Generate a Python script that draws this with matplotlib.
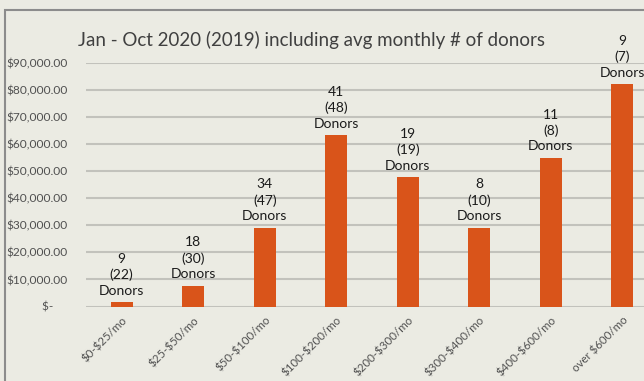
import matplotlib
matplotlib.use("Agg")
import matplotlib.pyplot as plt
from matplotlib.patches import Rectangle
from matplotlib.ticker import FuncFormatter

# Dane
categories = ["$0-$25/mo", "$25-$50/mo", "$50-$100/mo", "$100-$200/mo",
              "$200-$300/mo", "$300-$400/mo", "$400-$600/mo", "over $600/mo"]
amounts = [1500, 7700, 29100, 63200, 47700, 29100, 54800, 82000]
donors_2020 = [9, 18, 34, 41, 19, 8, 11, 9]
donors_2019 = [22, 30, 47, 48, 19, 10, 8, 7]

bg = "#EBEBE3"
bar_color = "#D9541A"
plt.rcParams['font.family'] = ['Lato', 'DejaVu Sans']
plt.rcParams['text.parse_math'] = False  # znaki $ jako zwykły tekst

fig = plt.figure(figsize=(6.44, 3.81), dpi=100, facecolor=bg)
# ramka wykresu
fig.patches.append(Rectangle((5 / 644, -0.05), 1.2, (381 - 10) / 381 + 0.05,
                             transform=fig.transFigure, fill=False,
                             edgecolor="#8C8C8C", linewidth=1.5))

ax = fig.add_axes([86 / 644, (381 - 306.5) / 381, 572 / 644, (306.5 - 62.5) / 381])
ax.set_facecolor(bg)
x = range(len(categories))
ax.bar(x, amounts, width=0.31, color=bar_color, zorder=3)
ax.set_xlim(-0.5, len(categories) - 0.5)
ax.set_ylim(0, 90000)
ax.set_yticks(range(0, 90001, 10000))


def fmt(v, pos):
    if v == 0:
        return "$-     "
    return "${:,.2f}".format(v)


ax.yaxis.set_major_formatter(FuncFormatter(fmt))
ax.grid(axis='y', color="#C2C2BC", linewidth=1.5, zorder=0)
for s in ax.spines.values():
    s.set_visible(False)
ax.tick_params(axis='both', length=0, labelsize=8.6, labelcolor="#505050")
ax.tick_params(axis='y', pad=13)
ax.set_xticks(list(x))
ax.set_xticklabels(categories, rotation=45, ha='right', rotation_mode='anchor', fontsize=8.3)
ax.tick_params(axis='x', pad=6)

for i, v in enumerate(amounts):
    ax.annotate(f"{donors_2020[i]}\n({donors_2019[i]})\nDonors", (i, v),
                xytext=(0, 4), textcoords='offset points', ha='center', va='bottom',
                fontsize=10, color="#1A1A1A", linespacing=1.35, annotation_clip=False)

fig.text(311 / 644, 1 - 40 / 381, "Jan - Oct 2020 (2019) including avg monthly # of donors",
         ha='center', va='center', fontsize=13.5, color="#404040")

plt.savefig("out.png", dpi=100, facecolor=bg)
